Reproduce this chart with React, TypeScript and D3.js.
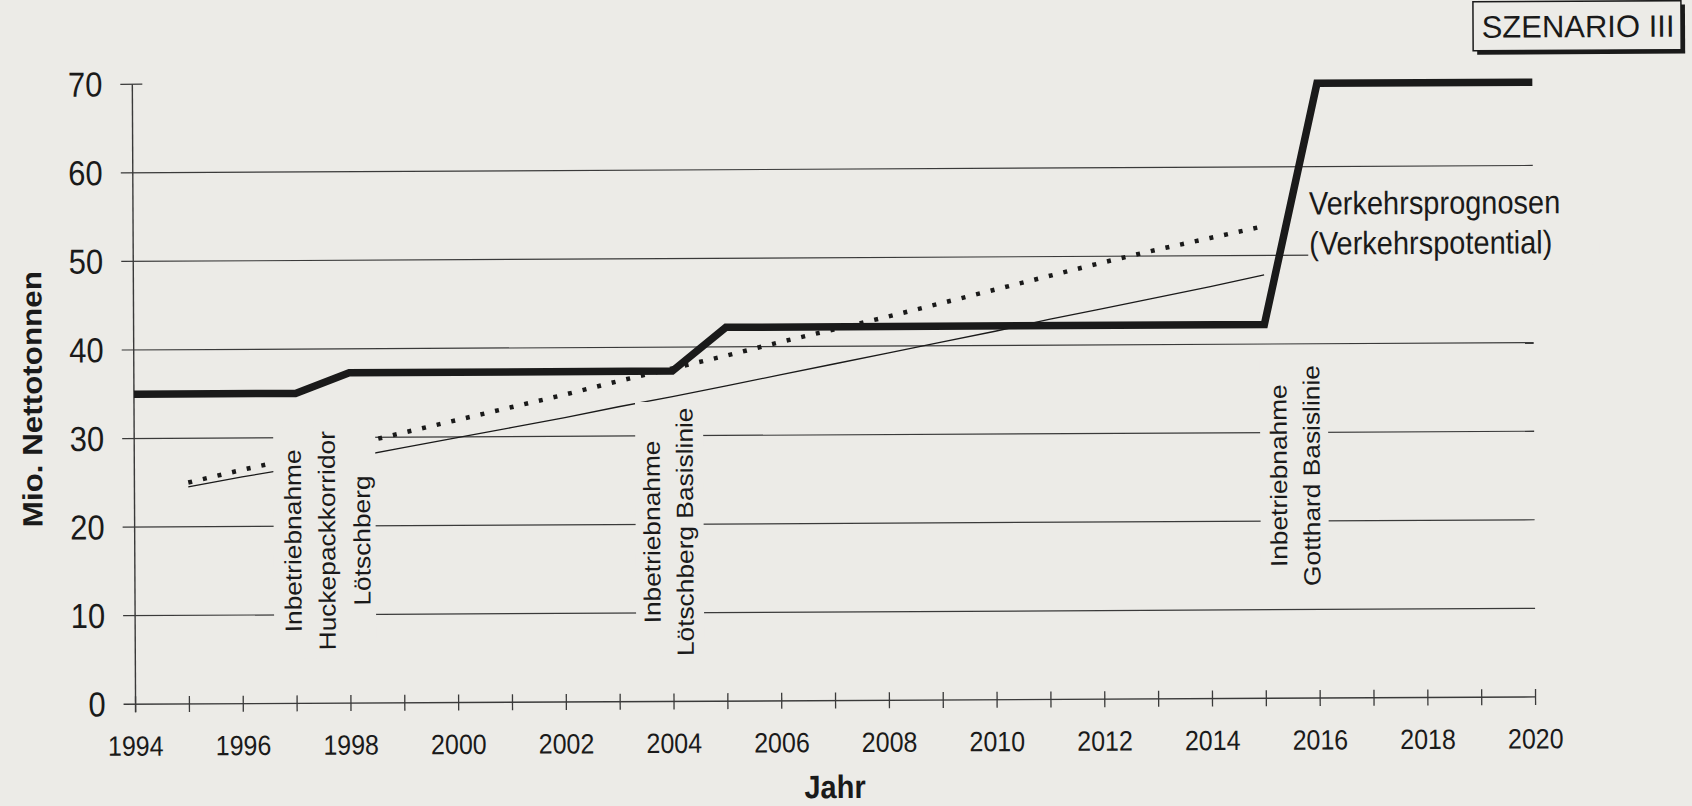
import React from "react";
import * as d3 from "d3";

// ---- data ----
const capacityYears = [1994, 1997, 1998, 2004, 2005, 2015, 2016, 2020];
const capacityValues = [35, 35, 37.3, 37.3, 42.2, 42.2, 69.4, 69.4];

const forecastYears = [1995, 1996, 1997, 1998, 1999, 2000, 2001, 2002, 2003, 2004, 2005, 2006, 2007, 2008, 2009, 2010, 2011, 2012, 2013, 2014, 2015];
const forecastHigh = [25.0, 26.4, 27.7, 29.1, 30.5, 31.9, 33.3, 34.7, 36.2, 37.6, 39.0, 40.5, 41.9, 43.3, 44.8, 46.3, 47.8, 49.3, 50.7, 52.0, 53.3];
const forecastLow = [24.5, 25.6, 26.6, 27.7, 28.8, 29.9, 31.0, 32.1, 33.3, 34.4, 35.6, 36.8, 38.0, 39.2, 40.4, 41.6, 42.9, 44.1, 45.3, 46.5, 47.8];

const yTicks = [0, 10, 20, 30, 40, 50, 60, 70];
const yearTicks = d3.range(1994, 2021, 1);
const yearLabels = d3.range(1994, 2021, 2);

const annotations = [
  { lines: ["Inbetriebnahme", "Huckepackkorridor", "Lötschberg"], cols: [292, 326, 361], cy: 538 },
  { lines: ["Inbetriebnahme", "Lötschberg Basislinie"], cols: [651, 684], cy: 531 },
  { lines: ["Inbetriebnahme", "Gotthard Basislinie"], cols: [1278, 1311], cy: 478 },
];

const forecastLabel = ["Verkehrsprognosen", "(Verkehrspotential)"];
const scenarioLabel = "SZENARIO III";
const yTitle = "Mio. Nettotonnen";
const xTitle = "Jahr";

// ---- layout ----
const W = 1692;
const H = 806;
const BG = "#ecebe7";
const INK = "#1a1a1a";
const GRID = "#3a3a3a";
const FONT = "'Liberation Sans', Arial, Helvetica, sans-serif";
const SY = 1.12; // vertical stretch of the scanned original

const x = d3.scaleLinear().domain([1994, 2020]).range([134, 1534]);
const y = d3.scaleLinear().domain([0, 70]).range([700.5, 80.5]);

const pts = (xs: number[], vs: number[]) => xs.map((v, i) => [v, vs[i]] as [number, number]);
const line = d3
  .line<[number, number]>()
  .x((d) => x(d[0]))
  .y((d) => y(d[1]));

export default function App() {
  const masks = [
    { x0: 273, x1: 375, y0: 425, y1: 656 },
    { x0: 635, x1: 703, y0: 401, y1: 656 },
    { x0: 1260, x1: 1328, y0: 352, y1: 596 },
    { x0: 1309, x1: 1600, y0: 186, y1: 268 },
  ];
  return (
    <svg
      width={W}
      height={H}
      style={{ position: "absolute", left: 0, top: 0, display: "block" }}
      fontFamily={FONT}
    >
      <rect x={0} y={0} width={W} height={H} fill={BG} />
      <g transform="rotate(-0.3 846 403)">
        {/* grid lines */}
        {yTicks.map((t) =>
          t === 0 || t === 70 ? null : (
            <line key={"g" + t} x1={122} x2={x(2020)} y1={y(t)} y2={y(t)} stroke={GRID} strokeWidth={1.2} />
          )
        )}
        <line x1={122} x2={144} y1={y(70)} y2={y(70)} stroke={GRID} strokeWidth={1.2} />
        {/* axes */}
        <line x1={x(1994)} x2={x(1994)} y1={y(70)} y2={y(0) + 8} stroke={GRID} strokeWidth={1.4} />
        <line x1={122} x2={x(2020)} y1={y(0)} y2={y(0)} stroke={GRID} strokeWidth={1.4} />
        {yearTicks.map((t) => (
          <line key={"t" + t} x1={x(t)} x2={x(t)} y1={y(0) - 8} y2={y(0) + 8} stroke={GRID} strokeWidth={1.3} />
        ))}

        {/* forecast lines */}
        <path d={line(pts(forecastYears, forecastLow)) || ""} fill="none" stroke={INK} strokeWidth={1.3} />
        <path
          d={line(pts(forecastYears, forecastHigh)) || ""}
          fill="none"
          stroke={INK}
          strokeWidth={4.5}
          strokeDasharray="4 11"
        />

        {/* masks behind labels */}
        {masks.map((m, i) => (
          <rect key={"m" + i} x={m.x0} y={m.y0} width={m.x1 - m.x0} height={m.y1 - m.y0} fill={BG} />
        ))}

        {/* capacity line */}
        <path
          d={line(pts(capacityYears, capacityValues)) || ""}
          fill="none"
          stroke={INK}
          strokeWidth={7.5}
          strokeLinejoin="miter"
        />

        {/* y tick labels */}
        {yTicks.map((t) => (
          <g key={"yl" + t} transform={`translate(104,${y(t)}) scale(1,${SY})`}>
            <text textAnchor="end" dominantBaseline="central" fontSize={31} fill={INK}>
              {t}
            </text>
          </g>
        ))}
        {/* x tick labels */}
        {yearLabels.map((t) => (
          <g key={"xl" + t} transform={`translate(${x(t)},752) scale(1,${SY})`}>
            <text textAnchor="middle" fontSize={25} fill={INK}>
              {t}
            </text>
          </g>
        ))}

        {/* axis titles */}
        <g transform={`translate(32,395) scale(1,${SY}) rotate(-90)`}>
          <text textAnchor="middle" dominantBaseline="central" fontSize={28} fontWeight="bold" fill={INK}>
            {yTitle}
          </text>
        </g>
        <g transform={`translate(833,798) scale(1,${SY})`}>
          <text textAnchor="middle" fontSize={29} fontWeight="bold" fill={INK}>
            {xTitle}
          </text>
        </g>

        {/* annotations */}
        {annotations.map((a, i) => (
          <g key={"a" + i}>
            {a.lines.map((ln, j) => (
              <g key={j} transform={`translate(${a.cols[j]},${a.cy}) scale(1,${SY}) rotate(-90)`}>
                <text textAnchor="middle" dominantBaseline="central" fontSize={23.5} fill={INK}>
                  {ln}
                </text>
              </g>
            ))}
          </g>
        ))}

        {/* forecast label */}
        {forecastLabel.map((ln, j) => (
          <g key={"f" + j} transform={`translate(1310,${217 + j * 40}) scale(1,${SY})`}>
            <text fontSize={29} fill={INK}>
              {ln}
            </text>
          </g>
        ))}

        {/* scenario box */}
        <rect x={1479} y={9} width={208} height={49} fill={INK} />
        <rect x={1475} y={5} width={208} height={49} fill={BG} stroke={INK} strokeWidth={1.5} />
        <text x={1580} y={41} textAnchor="middle" fontSize={31} fill={INK}>
          {scenarioLabel}
        </text>
      </g>
    </svg>
  );
}
